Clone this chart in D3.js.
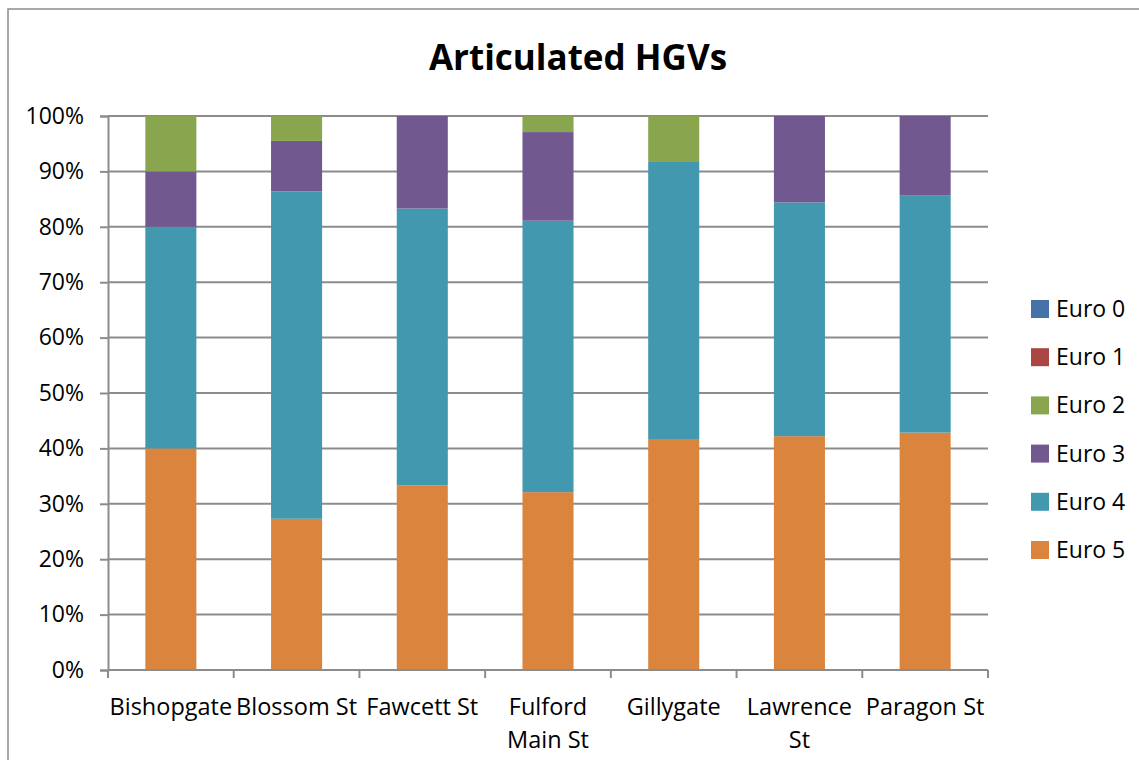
<!DOCTYPE html>
<html>
<head>
<meta charset="utf-8">
<script src="https://cdn.jsdelivr.net/npm/d3@7"></script>
<style>
  body { margin: 0; background: #fff; }
  svg { display: block; font-family: 'Open Sans', Lato, sans-serif; }
</style>
</head>
<body>
<svg id="chart" width="1139" height="760"></svg>
<script>
// categories (sites) and the share of each Euro class (%)
const sites = ['Bishopgate', 'Blossom St', 'Fawcett St', 'Fulford Main St', 'Gillygate', 'Lawrence St', 'Paragon St'];
const euroClasses = ['Euro 0', 'Euro 1', 'Euro 2', 'Euro 3', 'Euro 4', 'Euro 5'];
const euro0 = [0, 0, 0, 0, 0, 0, 0];
const euro1 = [0, 0, 0, 0, 0, 0, 0];
const euro2 = [10, 4.5, 0, 2.9, 8.3, 0, 0];
const euro3 = [10, 9.1, 16.7, 16.0, 0, 15.6, 14.3];
const euro4 = [40, 59.1, 50, 49.0, 50, 42.2, 42.9];
const euro5 = [40, 27.3, 33.3, 32.1, 41.7, 42.2, 42.9];
const yTicks = [0, 0.1, 0.2, 0.3, 0.4, 0.5, 0.6, 0.7, 0.8, 0.9, 1];
const colors = ['#4572A7', '#AA4643', '#89A54E', '#71588F', '#4198AF', '#DB843D'];

const series = [euro0, euro1, euro2, euro3, euro4, euro5];
const colorOf = d3.scaleOrdinal().domain(euroClasses).range(colors);

// table built from the arrays
const rows = sites.map((site, i) => {
  const row = { site };
  euroClasses.forEach((k, j) => { row[k] = series[j][i]; });
  return row;
});

const svg = d3.select('#chart');
const plot = { left: 108, right: 988, top: 116, bottom: 670 };

// outer chart border
svg.append('rect')
  .attr('x', 8).attr('y', 9)
  .attr('width', 1150).attr('height', 800)
  .attr('fill', 'none')
  .attr('stroke', '#8c8c8c')
  .attr('stroke-width', 1.5);

// title
svg.append('text')
  .attr('x', 578).attr('y', 70)
  .attr('text-anchor', 'middle')
  .attr('font-size', 35)
  .attr('font-weight', 'bold')
  .text('Articulated HGVs');

const x = d3.scaleBand()
  .domain(sites)
  .range([plot.left, plot.right])
  .paddingInner(0.594)
  .paddingOuter(0.297);

const y = d3.scaleLinear().domain([0, 1]).range([plot.bottom, plot.top]);

// gridlines (behind bars)
svg.append('g')
  .selectAll('line')
  .data(yTicks.slice(1))
  .join('line')
  .attr('x1', plot.left).attr('x2', plot.right)
  .attr('y1', d => y(d)).attr('y2', d => y(d))
  .attr('stroke', '#8c8c8c')
  .attr('stroke-width', 2);

// stacked 100% bars, Euro 5 at the bottom
const stack = d3.stack().keys(euroClasses.slice().reverse()).offset(d3.stackOffsetExpand);
const layers = stack(rows);

svg.append('g')
  .selectAll('g')
  .data(layers)
  .join('g')
  .attr('fill', d => colorOf(d.key))
  .selectAll('rect')
  .data(d => d)
  .join('rect')
  .attr('x', d => x(d.data.site))
  .attr('width', x.bandwidth())
  .attr('y', d => y(d[1]))
  .attr('height', d => y(d[0]) - y(d[1]));

// y axis
const yAxis = svg.append('g')
  .attr('transform', `translate(${plot.left},0)`)
  .call(d3.axisLeft(y).tickValues(yTicks).tickFormat(d3.format('.0%')).tickSize(8).tickPadding(16));
yAxis.select('.domain').attr('stroke', '#8c8c8c').attr('stroke-width', 2);
yAxis.selectAll('.tick line').attr('stroke', '#8c8c8c').attr('stroke-width', 2);
yAxis.selectAll('.tick text')
  .attr('font-size', 23)
  .attr('font-family', "'Open Sans', sans-serif")
  .attr('fill', '#000');

// x axis
const xTickPos = d3.range(sites.length + 1).map(i => plot.left + i * x.step());
const xAxis = svg.append('g');
xAxis.append('line')
  .attr('x1', plot.left).attr('x2', plot.right)
  .attr('y1', plot.bottom).attr('y2', plot.bottom)
  .attr('stroke', '#8c8c8c').attr('stroke-width', 2);
xAxis.selectAll('.xtick')
  .data(xTickPos)
  .join('line')
  .attr('class', 'xtick')
  .attr('x1', d => d).attr('x2', d => d)
  .attr('y1', plot.bottom).attr('y2', plot.bottom + 8)
  .attr('stroke', '#8c8c8c').attr('stroke-width', 2);

// category labels, wrapped like the original
const labelLines = { 'Fulford Main St': ['Fulford', 'Main St'], 'Lawrence St': ['Lawrence', 'St'] };
const labels = xAxis.selectAll('.xlabel')
  .data(sites)
  .join('text')
  .attr('class', 'xlabel')
  .attr('text-anchor', 'middle')
  .attr('font-size', 23.5)
  .attr('x', d => x(d) + x.bandwidth() / 2);
labels.each(function (d) {
  const lines = labelLines[d] || [d];
  d3.select(this).selectAll('tspan')
    .data(lines)
    .join('tspan')
    .attr('x', x(d) + x.bandwidth() / 2)
    .attr('y', (l, i) => 715 + i * 33)
    .text(l => l);
});

// legend (Euro 0 at top)
const legend = svg.append('g');
const item = legend.selectAll('g')
  .data(euroClasses)
  .join('g')
  .attr('transform', (d, i) => `translate(1031, ${300 + i * 48.2})`);
item.append('rect')
  .attr('width', 18).attr('height', 18)
  .attr('fill', d => colorOf(d));
item.append('text')
  .attr('x', 25).attr('y', 9)
  .attr('dy', '0.35em')
  .attr('font-size', 23)
  .text(d => d);
</script>
</body>
</html>
